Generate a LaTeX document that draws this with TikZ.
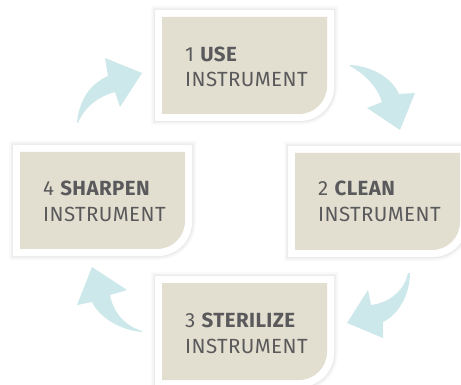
\documentclass[tikz,border=0pt]{standalone}
\usepackage{fontspec}
\setmainfont{Fira Sans}[LetterSpace=2]
\definecolor{beige}{HTML}{E3DFD0}
\definecolor{arrowc}{HTML}{CDE8EA}
\definecolor{txt}{HTML}{5A5A5C}
\tikzset{
  lbl/.style={anchor=base west, inner sep=0pt, text=txt, font=\fontsize{20.5}{25}\selectfont},
  cyc/.style={fill=arrowc, draw=none}
}
% #1 x, #2 y of beige top-left; beige 165 x 97
\newcommand\cardshape[5]{%
  \fill[#5] (#1-#3,#2-#3) -- (#1+165+#3,#2-#3) -- (#1+165+#3,#2+97+#3-#4)
    .. controls (#1+165+#3,#2+97+#3-0.448*#4) and (#1+165+#3-0.448*#4,#2+97+#3) .. (#1+165+#3-#4,#2+97+#3)
    -- (#1-#3,#2+97+#3) -- cycle;}
\newcommand\card[2]{%
  \cardshape{#1}{#2}{11}{38}{black,opacity=0.02}
  \cardshape{#1}{#2}{9.5}{36}{black,opacity=0.025}
  \cardshape{#1}{#2}{8.3}{35}{black,opacity=0.035}
  \cardshape{#1}{#2}{7}{34}{white}
  \cardshape{#1}{#2}{0}{28}{beige}}
\begin{document}
\begin{tikzpicture}[x=1pt,y=-1pt]
\useasboundingbox[fill=white] (0,0) rectangle (461,385);
% cards
\card{162}{17}
\card{295}{153}
\card{20}{152}
\card{162}{283}
% labels
\node[lbl] (t1a) at (185,62) {1 \textbf{USE}};
\node[lbl] (t1b) at (185,87) {INSTRUMENT};
\node[lbl] (t2a) at (318,196) {2 \textbf{CLEAN}};
\node[lbl] (t2b) at (318,222) {INSTRUMENT};
\node[lbl] (t4a) at (43,196) {4 \textbf{SHARPEN}};
\node[lbl] (t4b) at (43,222) {INSTRUMENT};
\node[lbl] (t3a) at (185,327) {3 \textbf{STERILIZE}};
\node[lbl] (t3b) at (185,353) {INSTRUMENT};
% cycle arrows
\fill[cyc] (77,123) .. controls (79,100) and (90,84) .. (108,76) -- (105,58) -- (142,73) -- (120,107) -- (115,92)
  .. controls (97,97) and (84,108) .. (78,123) -- cycle;
\fill[cyc] (350,65) .. controls (372,66) and (392,78) .. (399,94) -- (415,93) -- (400,130) -- (367,108) -- (382,102)
  .. controls (378,88) and (365,74) .. (350,66) -- cycle;
\fill[cyc] (410,273) .. controls (410,295) and (398,315) .. (383,322) -- (383,338) -- (347,323) -- (368,290) -- (371,305)
  .. controls (388,303) and (404,292) .. (408,273) -- cycle;
\fill[cyc] (142,332) .. controls (120,330) and (100,318) .. (92,302) -- (77,305) -- (92,267) -- (127,290) -- (110,295)
  .. controls (113,312) and (125,326) .. (142,331) -- cycle;
\end{tikzpicture}
\end{document}
